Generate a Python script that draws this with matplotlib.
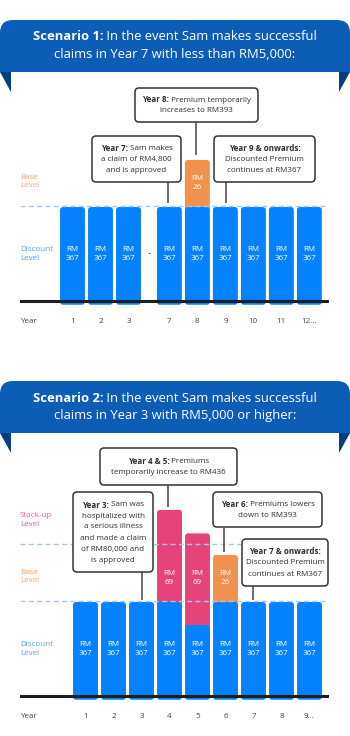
import numpy as np
import matplotlib
matplotlib.use('Agg')
import matplotlib.pyplot as plt
from matplotlib.patches import FancyBboxPatch, Polygon, Rectangle

plt.rcParams['font.family'] = ['Open Sans', 'DejaVu Sans']

# ---------------- data ----------------
# Scenario 1 (claim < RM5,000 in year 7)
s1_years = ['1', '2', '3', '7', '8', '9', '10', '11', '12...']
s1_disc_rm = [367, 367, 367, 367, 367, 367, 367, 367, 367]
s1_disc_h = [1, 1, 1, 1, 1, 1, 1, 1, 1]          # schematic bar heights (level units)
s1_top_rm = [0, 0, 0, 0, 26, 0, 0, 0, 0]
s1_top_h = [0, 0, 0, 0, 0.5, 0, 0, 0, 0]
s1_top_lvl = ['', '', '', '', 'base', '', '', '', '']

# Scenario 2 (claim >= RM5,000 in year 3)
s2_years = ['1', '2', '3', '4', '5', '6', '7', '8', '9...']
s2_disc_rm = [367, 367, 367, 367, 367, 367, 367, 367, 367]
s2_disc_h = [1, 1, 1, 1, 0.755, 1, 1, 1, 1]
s2_top_rm = [0, 0, 0, 69, 69, 26, 0, 0, 0]
s2_top_h = [0, 0, 0, 0.98, 0.975, 0.5, 0, 0, 0]
s2_top_lvl = ['', '', '', 'stack', 'stack', 'base', '', '', '']

# ---------------- style / layout ----------------
W, H = 350, 736
UNIT = 94      # px per level unit
PITCH = 28     # px per bar slot
BAR_W = 0.89

COL = {'disc': '#0582FF', 'base': '#F0914D', 'stack': '#E4447A'}
LBL_COL = {'disc': '#4DA3FF', 'base': '#F4A26F', 'stack': '#EC5F8D'}
BANNER = '#0B5DB6'
BANNER_DARK = '#063F80'
DASH = '#A9C8EE'
TXT = '#2E2E2E'
FS = 5.8

fig = plt.figure(figsize=(W / 100, H / 100), dpi=100)
fig.patch.set_facecolor('white')


def bar_axes(left, right, base, x0):
    lo, hi = -0.3, 2.3
    top = base - hi * UNIT
    bot = base - lo * UNIT
    ax = fig.add_axes([left / W, 1 - bot / H, (right - left) / W, (bot - top) / H])
    ax.set_xlim((left - x0) / PITCH, (right - x0) / PITCH)
    ax.set_ylim(lo, hi)
    ax.axis('off')
    return ax


def round_bars(ax, bars, r_px=3):
    for rect in bars:
        fb = FancyBboxPatch(rect.get_xy(), rect.get_width(), rect.get_height(),
                            boxstyle=f"round,pad=0,rounding_size={r_px / PITCH}",
                            mutation_aspect=PITCH / UNIT, fc=rect.get_facecolor(),
                            ec='none', zorder=rect.get_zorder())
        ax.add_patch(fb)
        rect.remove()


def draw_scenario(ax, pos, years, disc_h, disc_rm, top_h, top_rm, top_lvl, dashes, levels):
    pos = np.array(pos, dtype=float)
    disc_h = np.array(disc_h, dtype=float)
    top_h = np.array(top_h, dtype=float)
    # discount segment
    b = ax.bar(pos, disc_h + 0.04, bottom=-0.04, width=BAR_W, color=COL['disc'], zorder=3)
    round_bars(ax, b)
    # extra premium segment on top
    m = top_h > 0
    cols = [COL[l] for l in np.array(top_lvl)[m]]
    t = ax.bar(pos[m], top_h[m] + 0.04, bottom=disc_h[m] - 0.04, width=BAR_W,
               color=cols, zorder=2)
    round_bars(ax, t)
    for p, v in zip(pos, disc_rm):
        ax.text(p, 0.5, f'RM\n{v}', ha='center', va='center', color='white',
                fontsize=FS, linespacing=1.35, zorder=6)
    for p, v in zip(pos[m], np.array(top_rm)[m]):
        ax.text(p, 1.255, f'RM\n{v}', ha='center', va='center', color='white',
                fontsize=FS, linespacing=1.35, zorder=6)
    ax.axhline(0, color='#1E1E1E', lw=2.2, zorder=5)
    for d in dashes:
        ax.axhline(d, color=DASH, lw=1.0, dashes=(3.6, 2.4), zorder=4)
    tr = ax.get_yaxis_transform()
    for p, y in zip(pos, years):
        ax.text(p, -0.213, y, ha='center', va='center', color='#444444', fontsize=FS)
    ax.text(0, -0.213, 'Year', transform=tr, ha='left', va='center', color='#444444', fontsize=FS)
    for name, lvl, y in levels:
        ax.text(0, y, name, transform=tr, ha='left', va='center', color=LBL_COL[lvl],
                fontsize=FS, linespacing=1.35)


# scenario 1 bars (gap between year 3 and year 7)
s1_pos = [0, 1, 2, 3.46, 4.46, 5.46, 6.46, 7.46, 8.46]
ax1 = bar_axes(20, 329, 301, 72.5)
draw_scenario(ax1, s1_pos, s1_years, s1_disc_h, s1_disc_rm, s1_top_h, s1_top_rm, s1_top_lvl,
              [1.015], [('Base\nLevel', 'base', 1.27), ('Discount\nLevel', 'disc', 0.5)])
ax1.text((s1_pos[2] + s1_pos[3]) / 2, 0.5, '-', ha='center', va='center', color='#444444',
         fontsize=7)

# scenario 2 bars
s2_pos = [0, 1, 2, 3, 4, 5, 6, 7, 8]
ax2 = bar_axes(20, 329, 696, 85.5)
draw_scenario(ax2, s2_pos, s2_years, s2_disc_h, s2_disc_rm, s2_top_h, s2_top_rm, s2_top_lvl,
              [1.01, 1.617], [('Stack-up\nLevel', 'stack', 1.87), ('Base\nLevel', 'base', 1.27),
                              ('Discount\nLevel', 'disc', 0.5)])

# overlay for banners and callouts (pixel coordinates)
bg = fig.add_axes([0, 0, 1, 1], zorder=10)
bg.set_xlim(0, W)
bg.set_ylim(H, 0)
bg.axis('off')
bg.patch.set_alpha(0)

rend = fig.canvas.get_renderer()


def rich_line(xc, y, runs, size, color):
    arts = [bg.text(0, y, s, fontsize=size, fontweight=w, color=color, ha='left', va='center')
            for s, w in runs]
    widths = [a.get_window_extent(rend).width for a in arts]
    x = xc - sum(widths) / 2
    for a, wd in zip(arts, widths):
        a.set_x(x)
        x += wd


def banner(top, lines):
    bg.add_patch(FancyBboxPatch((0, top), W, 52, boxstyle='round,pad=0,rounding_size=13',
                                fc=BANNER, ec='none'))
    bg.add_patch(Rectangle((0, top + 30), W, 22, fc=BANNER, ec='none'))
    bg.add_patch(Polygon([(0, top + 52), (11, top + 52), (11, top + 72)], fc=BANNER_DARK, ec='none'))
    bg.add_patch(Polygon([(W, top + 52), (W - 11, top + 52), (W - 11, top + 72)], fc=BANNER_DARK, ec='none'))
    for i, runs in enumerate(lines):
        rich_line(W / 2, top + 17 + 18 * i, runs, 9.4, 'white')


def callout(x0, y0, x1, y1, lines, lx, ly0, ly1):
    bg.add_patch(FancyBboxPatch((x0, y0), x1 - x0, y1 - y0, boxstyle='round,pad=0,rounding_size=4',
                                fc='white', ec='#333333', lw=1.1))
    bg.plot([lx, lx], [ly0, ly1], color='#444444', lw=1.1, solid_capstyle='butt')
    yc = (y0 + y1) / 2 - (len(lines) - 1) * 5.5
    for i, runs in enumerate(lines):
        rich_line((x0 + x1) / 2, yc + 11 * i + 0.5, runs, FS, TXT)


B, N = 'bold', 'normal'
banner(20, [[('Scenario 1:', B), (' In the event Sam makes successful', N)],
            [('claims in Year 7 with less than RM5,000:', N)]])
banner(381, [[('Scenario 2:', B), (' In the event Sam makes successful', N)],
             [('claims in Year 3 with RM5,000 or higher:', N)]])

callout(135, 88, 258, 122, [[('Year 8:', B), (' Premium temporarily', N)],
                            [('increases to RM393', N)]], 196, 122, 155)
callout(92, 136, 181, 182, [[('Year 7:', B), (' Sam makes', N)],
                            [('a claim of RM4,800', N)], [('and is approved', N)]], 168, 182, 203)
callout(214, 136, 315, 182, [[('Year 9 & onwards:', B)], [('Discounted Premium', N)],
                             [('continues at RM367', N)]], 226, 182, 203)

callout(100, 448, 237, 485, [[('Year 4 & 5:', B), (' Premiums', N)],
                             [('temporarily increase to RM436', N)]], 168, 485, 507)
callout(73, 492, 153, 572, [[('Year 3:', B), (' Sam was', N)], [('hospitalized with', N)],
                            [('a serious illness', N)], [('and made a claim', N)],
                            [('of RM80,000 and', N)], [('is approved', N)]], 142, 572, 600)
callout(213, 492, 322, 527, [[('Year 6:', B), (' Premiums lowers', N)],
                             [('down to RM393', N)]], 224, 527, 552)
callout(242, 539, 328, 586, [[('Year 7 & onwards:', B)], [('Discounted Premium', N)],
                             [('continues at RM367', N)]], 253, 586, 600)

fig.savefig('out.png', dpi=100)
